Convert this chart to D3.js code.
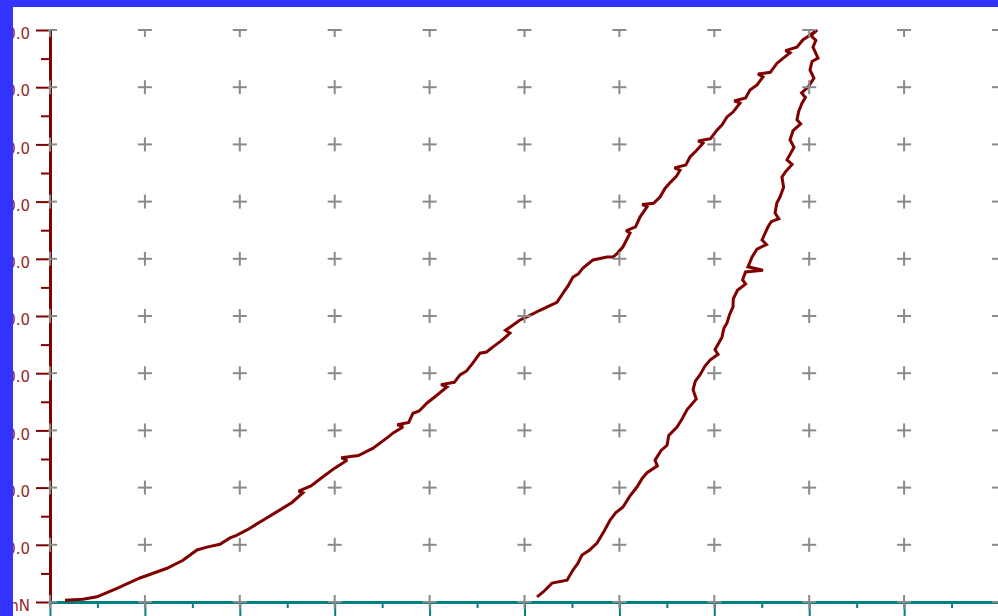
<!DOCTYPE html>
<html>
<head>
<meta charset="utf-8">
<script src="https://cdn.jsdelivr.net/npm/d3@7"></script>
<style>
  html, body { margin: 0; padding: 0; background: #3333ff; }
  svg { display: block; }
</style>
</head>
<body>
<svg id="chart" width="998" height="616"></svg>
<script>
// Load–depth record of an indentation cycle (depth in nm, load in mN)
const loadTicks = [0, 10, 20, 30, 40, 50, 60, 70, 80, 90, 100];
const loadMinorTicks = [5, 15, 25, 35, 45, 55, 65, 75, 85, 95];
const depthTicks = [0, 100, 200, 300, 400, 500, 600, 700, 800, 900, 1000];
const depthMinorTicks = [50, 150, 250, 350, 450, 550, 650, 750, 850, 950];

// Loading branch: [depth, load]
const loadingDepth = [15.8, 34.8, 49.5, 70.6, 94.8, 123.3, 140.1, 154.9, 165.4, 179.1, 189.7, 196, 207.6, 221.3, 242.4, 255, 266.6, 262, 275, 287.7, 300, 313.0, 307, 325, 340.4, 355.1, 362, 372.0, 366, 378, 382.5, 389, 397.3, 405, 418.3, 412, 426, 432.0, 439, 445.7, 453.1, 460, 466.8, 475, 484.7, 480, 495.3, 503, 516.3, 524, 534.2, 540.6, 546, 551.1, 557, 561.6, 572.2, 586.9, 593.3, 598, 603.8, 611.2, 607, 617, 621.7, 629.1, 624, 636, 642.8, 648, 653.3, 660, 663.9, 658, 670, 674.4, 681, 688.1, 683, 696, 702.8, 708, 713.4, 720, 727.1, 721, 733, 737.6, 745, 751.3, 746, 759, 766.1, 772, 779.8, 775, 787, 793.5, 800, 808.2];
const loadingLoad = [0.3, 0.5, 0.9, 2.4, 4.2, 5.9, 7.3, 9.1, 9.6, 10.1, 11.2, 11.6, 12.6, 14.0, 16.1, 17.4, 19.1, 19.4, 20.3, 21.9, 23.4, 24.8, 25.2, 25.6, 26.9, 28.7, 29.6, 30.6, 31.0, 31.4, 33.0, 33.4, 34.8, 35.8, 37.6, 38.0, 38.4, 39.7, 40.4, 41.8, 43.5, 43.7, 44.6, 45.6, 47.0, 47.5, 49.3, 49.9, 51.0, 51.6, 52.4, 54.0, 55.3, 56.8, 57.4, 58.4, 59.8, 60.3, 60.3, 61.0, 62.1, 64.5, 64.9, 65.6, 67.3, 69.1, 69.5, 69.7, 70.8, 72.3, 73.3, 74.4, 75.5, 75.9, 76.4, 77.8, 78.9, 80.2, 80.6, 81.0, 82.5, 83.4, 84.8, 85.7, 87.2, 87.6, 88.1, 89.5, 90.4, 91.8, 92.3, 92.6, 94.2, 95.0, 96.0, 96.4, 97.0, 98.3, 99.0, 100.0];

// Unloading branch: [depth, load]
const unloadingDepth = [808.2, 802, 807, 804.0, 809.3, 803, 800.8, 805, 798.7, 792, 796, 792.4, 789, 787.1, 791, 783, 779.8, 784, 776.6, 782, 775, 771.3, 773, 769.2, 766, 764.0, 768, 760, 756.6, 750.3, 755, 745, 739.7, 735.5, 751.3, 732.9, 729.8, 733, 724.4, 720, 719.7, 716, 713.4, 710, 708.1, 700.7, 704, 695.5, 690, 684.9, 680, 677.6, 681, 671.2, 666, 660.7, 652, 650.2, 644, 637.5, 640, 629.1, 624, 618.5, 611, 603.8, 596, 590.1, 584, 576.4, 568, 560.6, 556, 551.1, 544.8, 529.0, 520, 513.2];
const unloadingLoad = [100.0, 99.0, 98.2, 97.0, 95.1, 94.5, 93.0, 91.6, 90.0, 89.0, 88.2, 87.2, 85.8, 84.3, 83.6, 82.4, 80.8, 79.5, 77.3, 76.5, 75.2, 74.3, 72.5, 70.8, 69.8, 68.0, 67.0, 66.5, 65.6, 63.3, 62.5, 61.7, 60.3, 58.6, 58.0, 57.7, 56.3, 55.6, 54.5, 53.0, 51.6, 50.2, 48.8, 47.8, 46.3, 44.1, 43.3, 42.3, 41.2, 39.7, 38.6, 37.1, 35.5, 33.6, 32.0, 30.6, 29.1, 27.4, 26.5, 24.8, 23.8, 22.6, 21.6, 20.1, 18.5, 16.6, 15.6, 14.3, 12.4, 10.3, 9.0, 8.2, 6.7, 5.6, 3.8, 3.3, 1.8, 0.9];

const svg = d3.select("#chart");
const W = 998, H = 616;

// White drawing area
svg.append("rect").attr("width", W).attr("height", H).attr("fill", "#ffffff");

const x = d3.scaleLinear().domain([0, 1000]).range([50, 999]);
const y = d3.scaleLinear().domain([0, 100]).range([602, 30]);

const red = "#800000";
const teal = "#008080";

// Clip region for the grid crosses
svg.append("clipPath").attr("id", "plotClip")
  .append("rect").attr("x", 48).attr("y", 29).attr("width", W - 48).attr("height", H - 29);

// X axis (teal) with major and minor ticks
const xAxisG = svg.append("g").attr("transform", `translate(0,${y(0)})`)
  .call(d3.axisBottom(x).tickValues(depthTicks).tickSize(14).tickSizeOuter(0).tickFormat(""));
xAxisG.select(".domain").remove();
xAxisG.selectAll(".tick line").attr("stroke", teal).attr("stroke-width", 2);
const xMinorG = svg.append("g").attr("transform", `translate(0,${y(0)})`)
  .call(d3.axisBottom(x).tickValues(depthMinorTicks).tickSize(6).tickSizeOuter(0).tickFormat(""));
xMinorG.select(".domain").remove();
xMinorG.selectAll(".tick line").attr("stroke", teal).attr("stroke-width", 2);
svg.append("line").attr("x1", 50).attr("x2", W).attr("y1", y(0) + 0.5).attr("y2", y(0) + 0.5)
  .attr("stroke", teal).attr("stroke-width", 3);

// Y axis (dark red) with major and minor ticks
const yAxisG = svg.append("g").attr("transform", `translate(${x(0)},0)`)
  .call(d3.axisLeft(y).tickValues(loadTicks).tickSize(14).tickSizeOuter(0).tickPadding(6)
    .tickFormat(d => d === 0 ? "mN" : d.toFixed(1)));
yAxisG.select(".domain").remove();
yAxisG.selectAll(".tick line").attr("stroke", red).attr("stroke-width", 2);
yAxisG.selectAll(".tick text")
  .attr("fill", "#962a2a")
  .attr("dy", "0.58em")
  .style("font-family", "'DejaVu Sans', Verdana, sans-serif")
  .style("font-size", "15px");
const yMinorG = svg.append("g").attr("transform", `translate(${x(0)},0)`)
  .call(d3.axisLeft(y).tickValues(loadMinorTicks).tickSize(9).tickSizeOuter(0).tickFormat(""));
yMinorG.select(".domain").remove();
yMinorG.selectAll(".tick line").attr("stroke", red).attr("stroke-width", 2);
svg.append("line").attr("x1", x(0) + 0.5).attr("x2", x(0) + 0.5).attr("y1", 29).attr("y2", y(0))
  .attr("stroke", red).attr("stroke-width", 3);

// Load–depth curves
const line = d3.line().x(d => x(d[0])).y(d => y(d[1]));
const loading = loadingDepth.map((d, i) => [d, loadingLoad[i]]);
const unloading = unloadingDepth.map((d, i) => [d, unloadingLoad[i]]);
[loading, unloading].forEach(series => {
  svg.append("path").datum(series)
    .attr("d", line)
    .attr("fill", "none")
    .attr("stroke", red)
    .attr("stroke-width", 3)
    .attr("stroke-linejoin", "miter")
    .attr("stroke-miterlimit", 2);
});

// Grid of small crosses at every major tick intersection
const grid = svg.append("g").attr("clip-path", "url(#plotClip)");
const arm = 7;
depthTicks.forEach(dx => {
  loadTicks.forEach(ly => {
    const cx = x(dx), cy = y(ly);
    grid.append("line").attr("x1", cx - arm).attr("x2", cx + arm).attr("y1", cy).attr("y2", cy)
      .attr("stroke", "#8a8a8a").attr("stroke-width", 2);
    grid.append("line").attr("x1", cx).attr("x2", cx).attr("y1", cy - arm).attr("y2", cy + arm)
      .attr("stroke", "#8a8a8a").attr("stroke-width", 2);
  });
});

// Window frame on the left and top edges, laid over the axis labels
svg.append("rect").attr("x", 0).attr("y", 0).attr("width", 13).attr("height", H).attr("fill", "#3333ff");
svg.append("rect").attr("x", 0).attr("y", 0).attr("width", W).attr("height", 7).attr("fill", "#3333ff");
</script>
</body>
</html>
